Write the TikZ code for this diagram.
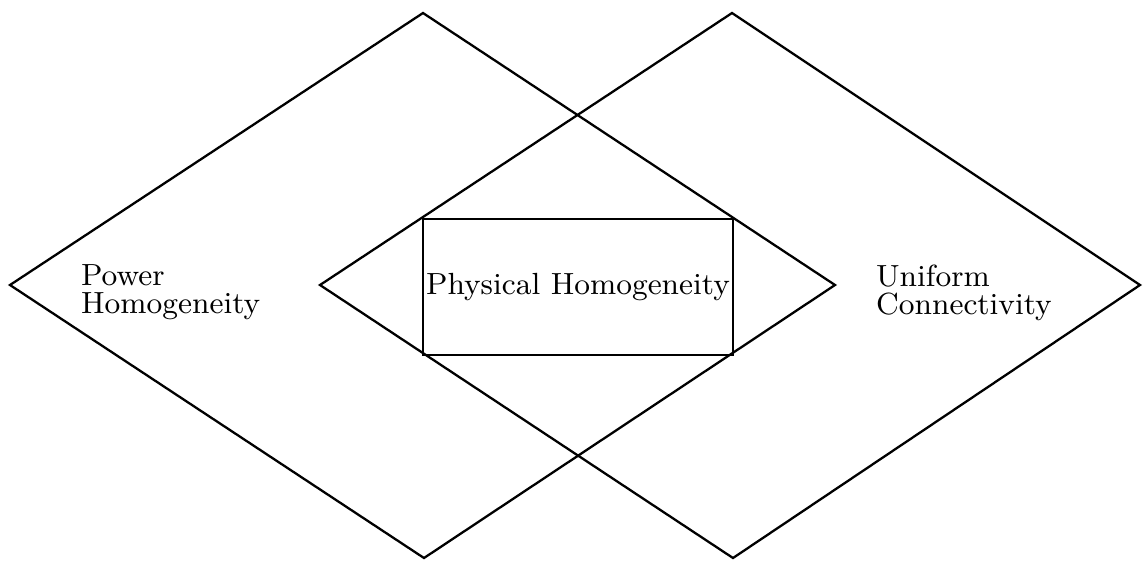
\documentclass[tikz,border=0pt]{standalone}
\usetikzlibrary{positioning}

\begin{document}
\begin{tikzpicture}[x=0.01cm, y=-0.01cm, line width=0.65pt,
    labeltext/.style={align=left, inner sep=0pt, font=\fontsize{8.7}{8.1}\selectfont},
    centerbox/.style={draw, inner sep=0pt, minimum width=3.1cm, minimum height=1.36cm,
        font=\fontsize{8.7}{8.1}\selectfont}]
    \useasboundingbox (0,0) rectangle (1143,560);

    % left diamond
    \coordinate (lw) at (10,285);
    \coordinate (ln) at (423,13);
    \coordinate (le) at (835,285);
    \coordinate (ls) at (424,558);
    \draw (lw) -- (ln) -- (le) -- (ls) -- cycle;

    % right diamond
    \coordinate (rw) at (320,285);
    \coordinate (rn) at (732,13);
    \coordinate (re) at (1140,285);
    \coordinate (rs) at (733,558);
    \draw (rw) -- (rn) -- (re) -- (rs) -- cycle;

    \node[centerbox] (physical) at (578,287) {Physical Homogeneity};

    \node[labeltext, anchor=west] (power) at (80,292) {Power\\Homogeneity};
    \node[labeltext, anchor=west] (uniform) at (875,293) {Uniform\\Connectivity};
\end{tikzpicture}
\end{document}
